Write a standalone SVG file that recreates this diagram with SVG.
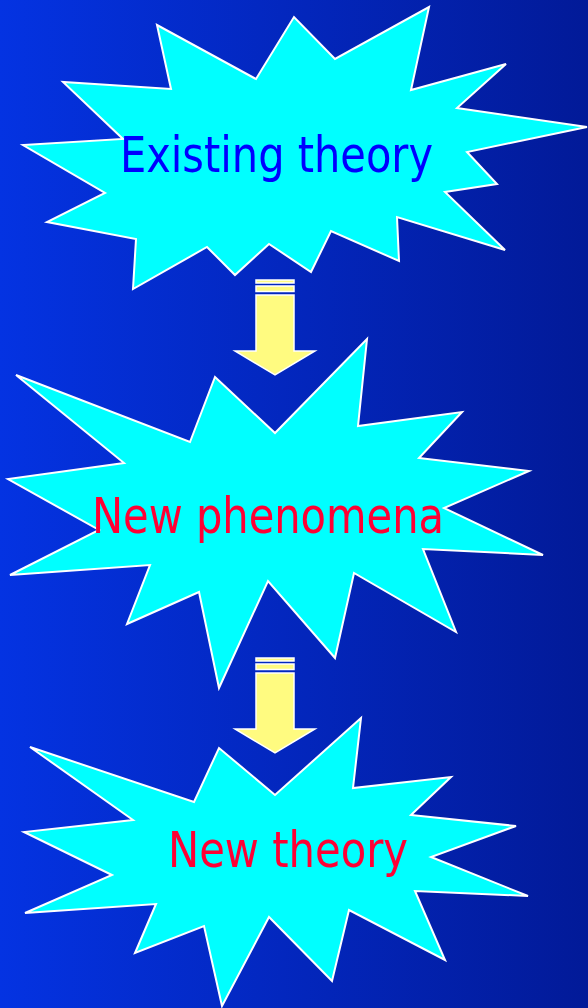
<svg xmlns="http://www.w3.org/2000/svg" width="588" height="1008" viewBox="0 0 588 1008">
<defs>
<linearGradient id="bg" x1="0" y1="0" x2="1" y2="0">
<stop offset="0" stop-color="#0433E2"/>
<stop offset="1" stop-color="#021A98"/>
</linearGradient>
</defs>
<style>
.star{fill:#00FFFF;stroke:#FFFFFF;stroke-width:2;stroke-linejoin:miter}
.lbl{font-family:"DejaVu Sans Condensed","DejaVu Sans",sans-serif;font-size:50px}
.arr{fill:#FFFB80;stroke:#FFFFFF;stroke-width:1.5}
</style>
<rect x="0" y="0" width="588" height="1008" fill="url(#bg)"/>
<g id="existing-theory">
<polygon class="star" points="157,25 256,79 294,17 335,59 429,7 411,90 506,64 457,108 587,127 467,152 497,184 445,192 505,250 397,217 399,261 331,231 311,272 269,244 235,275 207,247 133,289 136,239 47,222 105,193 23,145 123,139 63,82 171,89"/>
<text class="lbl" x="120" y="172" fill="#0000FF" textLength="313" lengthAdjust="spacingAndGlyphs">Existing theory</text>
</g>
<g id="new-phenomena">
<polygon class="star" points="16,375 190,442 215,377 275,433 367,339 358,426 462,412 419,458 529,471 444,508 543,555 423,549 456,632 354,573 335,658 268,581 219,688 199,592 127,624 150,565 10,575 99,530 8,479 124,463"/>
<text class="lbl" x="92" y="533" fill="#FF0033" textLength="352" lengthAdjust="spacingAndGlyphs">New phenomena</text>
</g>
<g id="new-theory">
<polygon class="star" points="30,747 194,802 219,748 275,795 361,718 353,788 451,777 411,815 516,826 431,857 528,896 415,891 445,960 349,910 332,981 269,917 222,1006 204,926 135,953 156,904 25,913 112,875 24,832 133,820"/>
<text class="lbl" x="168" y="867" fill="#FF0033" textLength="240" lengthAdjust="spacingAndGlyphs">New theory</text>
</g>
<g id="connectors">
<g id="arrow1">
<rect class="arr" x="256" y="280" width="38" height="3"/>
<rect class="arr" x="256" y="286" width="38" height="5.5"/>
<polygon class="arr" points="256,295 294,295 294,351 315,351 275,375 235,351 256,351"/>
</g>
<g id="arrow2">
<rect class="arr" x="256" y="658" width="38" height="3"/>
<rect class="arr" x="256" y="664" width="38" height="5.5"/>
<polygon class="arr" points="256,673 294,673 294,729 315,729 275,753 235,729 256,729"/>
</g>
</g>
</svg>
